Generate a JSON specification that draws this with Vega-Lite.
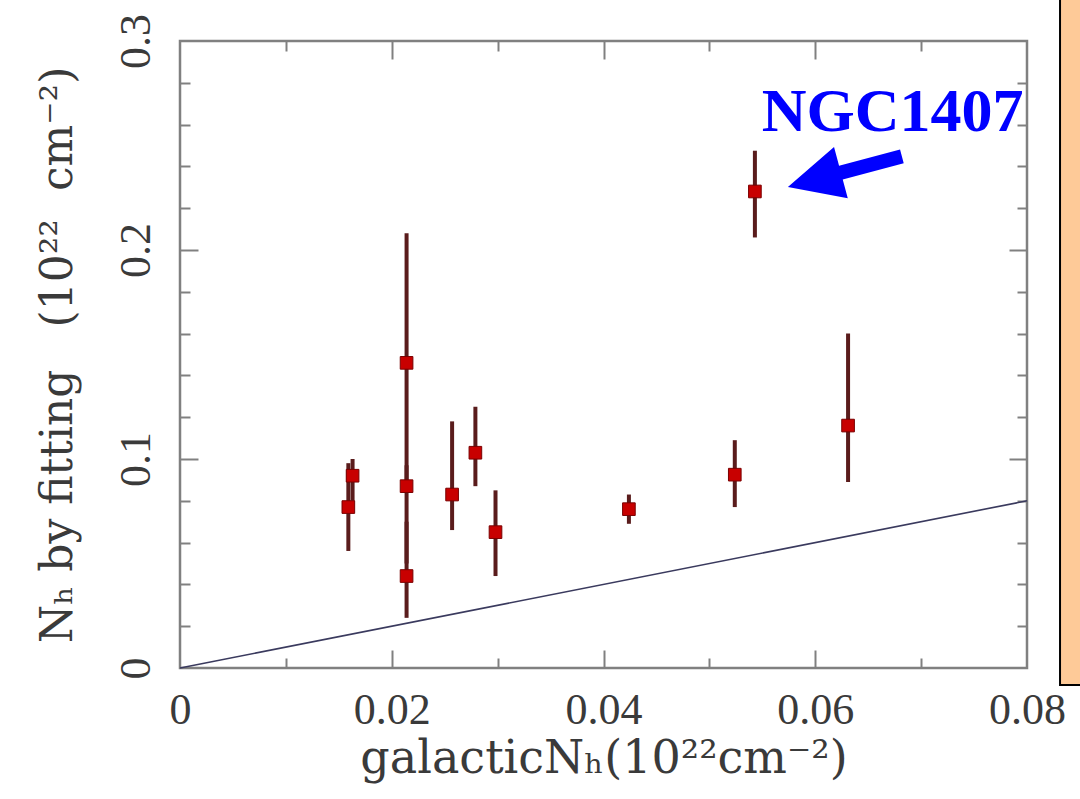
{
  "$schema": "https://vega.github.io/schema/vega-lite/v6.json",
  "width": 847,
  "height": 627,
  "autosize": {"type": "none"},
  "padding": {"left": 180, "top": 41, "right": 53, "bottom": 131},
  "background": "white",
  "config": {
    "view": {"stroke": "#808080", "strokeWidth": 2.5},
    "axis": {"grid": false, "domain": false, "labelFlush": false, "labelOverlap": false}
  },
  "datasets": {
    "points": [
      {"gal": 0.0159, "nh": 0.077, "lo": 0.056, "hi": 0.098},
      {"gal": 0.0163, "nh": 0.092, "lo": 0.080, "hi": 0.100},
      {"gal": 0.0214, "nh": 0.146, "lo": 0.090, "hi": 0.208},
      {"gal": 0.0214, "nh": 0.087, "lo": 0.050, "hi": 0.097},
      {"gal": 0.0214, "nh": 0.044, "lo": 0.024, "hi": 0.070},
      {"gal": 0.0257, "nh": 0.083, "lo": 0.066, "hi": 0.118},
      {"gal": 0.0279, "nh": 0.103, "lo": 0.087, "hi": 0.125},
      {"gal": 0.0298, "nh": 0.065, "lo": 0.044, "hi": 0.085},
      {"gal": 0.0424, "nh": 0.076, "lo": 0.069, "hi": 0.083},
      {"gal": 0.0524, "nh": 0.0925, "lo": 0.077, "hi": 0.109},
      {"gal": 0.0543, "nh": 0.228, "lo": 0.206, "hi": 0.2475},
      {"gal": 0.0631, "nh": 0.116, "lo": 0.089, "hi": 0.160}
    ],
    "equal": [
      {"gal": 0, "nh": 0},
      {"gal": 0.08, "nh": 0.08}
    ],
    "label": [
      {"gal": 0.0673, "nh": 0.257, "text": "NGC1407"}
    ],
    "arrow": [
      {"gal": 0.0628, "nh": 0.2375}
    ],
    "panel": [
      {"x1": 0.08312, "x2": 0.1, "y1": -0.0081, "y2": 0.36}
    ]
  },
  "resolve": {"axis": {"x": "independent", "y": "independent"}},
  "layer": [
    {
      "data": {"name": "panel"},
      "mark": {"type": "rect", "fill": "#FECA98", "stroke": "#000000", "strokeWidth": 2, "clip": false},
      "encoding": {
        "x": {"field": "x1", "type": "quantitative",
          "scale": {"domain": [0, 0.08], "nice": false, "zero": false},
          "axis": {"orient": "bottom", "values": [0, 0.02, 0.04, 0.06, 0.08], "format": "~g", "ticks": false,
            "labelFont": "Liberation Serif", "labelFontSize": 44, "labelColor": "#3a3a3a", "labelPadding": 20,
            "title": "galacticNₕ(10²²cm⁻²)", "titleFont": "DejaVu Serif", "titleFontSize": 46,
            "titleFontWeight": "normal", "titleColor": "#3a3a3a", "titlePadding": 4}},
        "x2": {"field": "x2"},
        "y": {"field": "y1", "type": "quantitative",
          "scale": {"domain": [0, 0.3], "nice": false, "zero": false},
          "axis": {"orient": "left", "values": [0, 0.1, 0.2, 0.3], "format": "~g", "ticks": false,
            "labelFont": "Liberation Serif", "labelFontSize": 44, "labelColor": "#3a3a3a", "labelPadding": 22,
            "labelAngle": 270, "labelAlign": "center", "labelBaseline": "bottom",
            "title": "Nₕ by fitting\u00a0\u00a0\u00a0(10²²\u00a0\u00a0cm⁻²)", "titleFont": "DejaVu Serif", "titleFontSize": 44,
            "titleFontWeight": "normal", "titleColor": "#3a3a3a", "titlePadding": 34}},
        "y2": {"field": "y2"}
      }
    },
    {
      "data": {"name": "equal"},
      "mark": {"type": "line", "color": "#3a3a5e", "strokeWidth": 1.6},
      "encoding": {
        "x": {"field": "gal", "type": "quantitative",
          "scale": {"domain": [0, 0.08], "nice": false, "zero": false},
          "axis": {"orient": "bottom", "values": [0.02, 0.04, 0.06], "labels": false, "tickSize": -18,
            "tickColor": "#808080", "tickWidth": 2, "title": null}},
        "y": {"field": "nh", "type": "quantitative",
          "scale": {"domain": [0, 0.3], "nice": false, "zero": false},
          "axis": {"orient": "left", "values": [0.1, 0.2], "labels": false, "tickSize": -18,
            "tickColor": "#808080", "tickWidth": 2, "title": null}}
      }
    },
    {
      "data": {"name": "points"},
      "mark": {"type": "rule", "color": "#5a1c1c", "strokeWidth": 4},
      "encoding": {
        "x": {"field": "gal", "type": "quantitative",
          "scale": {"domain": [0, 0.08], "nice": false, "zero": false},
          "axis": {"orient": "bottom", "values": [0.01, 0.03, 0.05, 0.07], "labels": false, "tickSize": -10,
            "tickColor": "#808080", "tickWidth": 2, "title": null}},
        "y": {"field": "lo", "type": "quantitative",
          "scale": {"domain": [0, 0.3], "nice": false, "zero": false},
          "axis": {"orient": "left", "values": [0.02, 0.04, 0.06, 0.08, 0.12, 0.14, 0.16, 0.18, 0.22, 0.24, 0.26, 0.28],
            "labels": false, "tickSize": -10, "tickColor": "#808080", "tickWidth": 2, "title": null}},
        "y2": {"field": "hi"}
      }
    },
    {
      "data": {"name": "points"},
      "mark": {"type": "point", "shape": "square", "filled": true, "fill": "#c80000", "stroke": "#7a0000", "strokeWidth": 1, "size": 160, "opacity": 1},
      "encoding": {
        "x": {"field": "gal", "type": "quantitative",
          "scale": {"domain": [0, 0.08], "nice": false, "zero": false},
          "axis": {"orient": "top", "values": [0.02, 0.04, 0.06], "labels": false, "tickSize": -18,
            "tickColor": "#808080", "tickWidth": 2, "title": null}},
        "y": {"field": "nh", "type": "quantitative",
          "scale": {"domain": [0, 0.3], "nice": false, "zero": false},
          "axis": {"orient": "right", "values": [0.1, 0.2], "labels": false, "tickSize": -18,
            "tickColor": "#808080", "tickWidth": 2, "title": null}}
      }
    },
    {
      "data": {"name": "label"},
      "mark": {"type": "text", "font": "Liberation Serif", "fontWeight": "bold", "fontSize": 62, "color": "#0000ff", "align": "center", "baseline": "alphabetic", "clip": false},
      "encoding": {
        "x": {"field": "gal", "type": "quantitative",
          "scale": {"domain": [0, 0.08], "nice": false, "zero": false},
          "axis": {"orient": "top", "values": [0.01, 0.03, 0.05, 0.07], "labels": false, "tickSize": -10,
            "tickColor": "#808080", "tickWidth": 2, "title": null}},
        "y": {"field": "nh", "type": "quantitative",
          "scale": {"domain": [0, 0.3], "nice": false, "zero": false},
          "axis": {"orient": "right", "values": [0.02, 0.04, 0.06, 0.08, 0.12, 0.14, 0.16, 0.18, 0.22, 0.24, 0.26, 0.28],
            "labels": false, "tickSize": -10, "tickColor": "#808080", "tickWidth": 2, "title": null}},
        "text": {"field": "text"}
      }
    },
    {
      "data": {"name": "arrow"},
      "mark": {"type": "point", "filled": true, "fill": "#0000ff", "strokeWidth": 0, "opacity": 1,
        "shape": "M-1,0L-0.07,-0.45L-0.07,-0.12L1,-0.12L1,0.12L-0.07,0.12L-0.07,0.45Z",
        "size": 13924, "angle": 345},
      "encoding": {
        "x": {"field": "gal", "type": "quantitative", "scale": {"domain": [0, 0.08], "nice": false, "zero": false}, "axis": null},
        "y": {"field": "nh", "type": "quantitative", "scale": {"domain": [0, 0.3], "nice": false, "zero": false}, "axis": null}
      }
    }
  ]
}
